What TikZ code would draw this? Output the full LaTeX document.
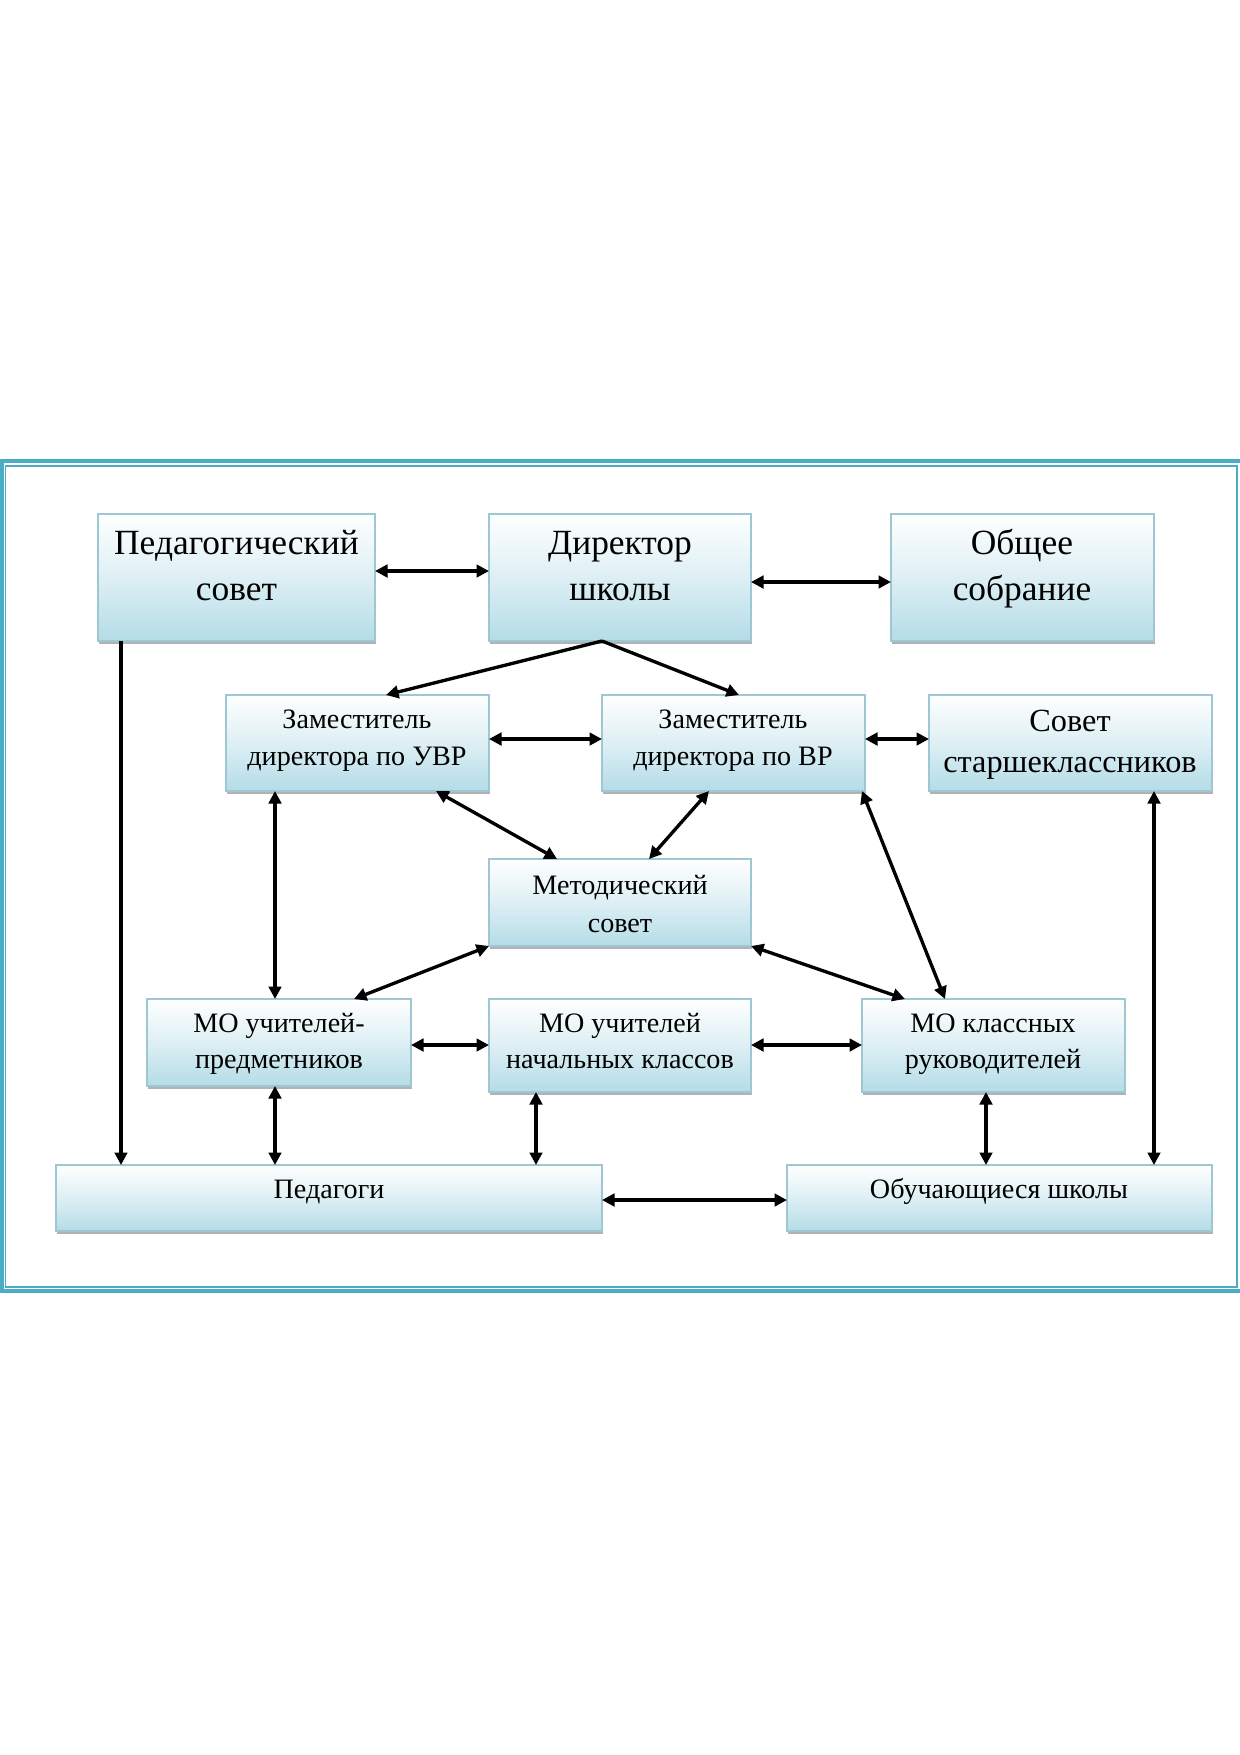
\documentclass[tikz,border=0pt]{standalone}
\usepackage{fontspec}
\setmainfont{Liberation Serif}
\usetikzlibrary{arrows.meta,fit,shadows}
\definecolor{frameteal}{RGB}{75,172,198}
\definecolor{boxline}{RGB}{158,198,211}
\definecolor{boxblue}{RGB}{180,220,231}
\tikzset{
  box/.style={draw=boxline, line width=0.6pt, inner sep=0pt, outer sep=0pt,
    top color=white, bottom color=boxblue, middle color=boxblue!45,
    drop shadow={shadow xshift=0.7pt, shadow yshift=-1.2pt, fill=black, opacity=0.3}},
  tbig/.style={anchor=base, inner sep=0pt, font=\fontsize{17}{20}\selectfont},
  tmid/.style={anchor=base, inner sep=0pt, font=\fontsize{15.5}{19}\selectfont},
  tsmall/.style={anchor=base, inner sep=0pt, font=\fontsize{13.5}{17}\selectfont},
  conn/.style={line width=1.6pt, draw=black},
  biarr/.style={conn, {Triangle[length=6pt,width=6pt]}-{Triangle[length=6pt,width=6pt]}},
  onearr/.style={conn, -{Triangle[length=6pt,width=6pt]}}
}
\begin{document}
\begin{tikzpicture}[x=0.48pt,y=-0.48pt]
\useasboundingbox[fill=white] (0,0) rectangle (1240,1755);
% frame
\draw[frameteal, line width=1.9pt] (0,461) -- (1240,461);
\draw[frameteal, line width=1.9pt] (0,1291) -- (1240,1291);
\draw[frameteal, line width=1.9pt] (2,461) -- (2,1291);
\draw[frameteal, line width=0.55pt] (5.5,466) rectangle (1237,1287);

% boxes
\node[box, fit={(98,514)(375,641)}] (ps) {};
\node[box, fit={(489,514)(751,641)}] (dir) {};
\node[box, fit={(891,514)(1154,641)}] (os) {};
\node[box, fit={(226,695)(489,791)}] (zuvr) {};
\node[box, fit={(602,695)(865,791)}] (zvr) {};
\node[box, fit={(929,695)(1212,791)}] (ss) {};
\node[box, fit={(489,859)(751,946)}] (ms) {};
\node[box, fit={(147,999)(411,1086)}] (mop) {};
\node[box, fit={(489,999)(751,1092)}] (mon) {};
\node[box, fit={(862,999)(1125,1092)}] (mok) {};
\node[box, fit={(56,1165)(602,1231)}] (ped) {};
\node[box, fit={(787,1165)(1212,1231)}] (obu) {};

% texts
\node[tbig] (ps-a) at (236.5,554) {Педагогический};
\node[tbig] (ps-b) at (236.5,600) {совет};
\node[tbig] (dir-a) at (620,554) {Директор};
\node[tbig] (dir-b) at (620,600) {школы};
\node[tbig] (os-a) at (1022,554) {Общее};
\node[tbig] (os-b) at (1022,600) {собрание};
\node[tsmall] (zuvr-a) at (357,728) {Заместитель};
\node[tsmall] (zuvr-b) at (357,765) {директора по УВР};
\node[tsmall] (zvr-a) at (733,728) {Заместитель};
\node[tsmall] (zvr-b) at (733,765) {директора по ВР};
\node[tmid] (ss-a) at (1070,731) {Совет};
\node[tmid] (ss-b) at (1070,772) {старшеклассников};
\node[tsmall] (ms-a) at (620,894) {Методический};
\node[tsmall] (ms-b) at (620,932) {совет};
\node[tsmall] (mop-a) at (279,1032) {МО учителей-};
\node[tsmall] (mop-b) at (279,1068) {предметников};
\node[tsmall] (mon-a) at (620,1032) {МО учителей};
\node[tsmall] (mon-b) at (620,1068) {начальных классов};
\node[tsmall] (mok-a) at (993,1032) {МО классных};
\node[tsmall] (mok-b) at (993,1068) {руководителей};
\node[tsmall] (ped-a) at (329,1198) {Педагоги};
\node[tsmall] (obu-a) at (999,1198) {Обучающиеся школы};

% connectors
\draw[biarr] (ps.east |- 0,571) -- (dir.west |- 0,571);
\draw[biarr] (dir.east |- 0,582) -- (os.west |- 0,582);
\coordinate (apex) at (dir.south -| 602,0);
\draw[onearr] (apex) -- (zuvr.north -| 386,0);
\draw[onearr] (apex) -- (zvr.north -| 739,0);
\draw[biarr] (zuvr.east |- 0,739) -- (zvr.west |- 0,739);
\draw[biarr] (zvr.east |- 0,739) -- (ss.west |- 0,739);
\draw[biarr] (zuvr.south -| 436,0) -- (ms.north -| 557,0);
\draw[biarr] (zvr.south -| 709,0) -- (ms.north -| 649,0);
\draw[biarr] (zvr.south -| 862,0) -- (mok.north -| 945,0);
\draw[biarr] (zuvr.south -| 275,0) -- (mop.north -| 275,0);
\draw[biarr] (ms.south -| 489,0) -- (mop.north -| 354,0);
\draw[biarr] (ms.south -| 751,0) -- (mok.north -| 905,0);
\draw[biarr] (mop.east |- 0,1045) -- (mon.west |- 0,1045);
\draw[biarr] (mon.east |- 0,1045) -- (mok.west |- 0,1045);
\draw[onearr] (ps.south -| 121,0) -- (ped.north -| 121,0);
\draw[biarr] (mop.south -| 275,0) -- (ped.north -| 275,0);
\draw[biarr] (mon.south -| 536,0) -- (ped.north -| 536,0);
\draw[biarr] (mok.south -| 986,0) -- (obu.north -| 986,0);
\draw[biarr] (ss.south -| 1154,0) -- (obu.north -| 1154,0);
\draw[biarr] (ped.east |- 0,1200) -- (obu.west |- 0,1200);
\end{tikzpicture}
\end{document}
